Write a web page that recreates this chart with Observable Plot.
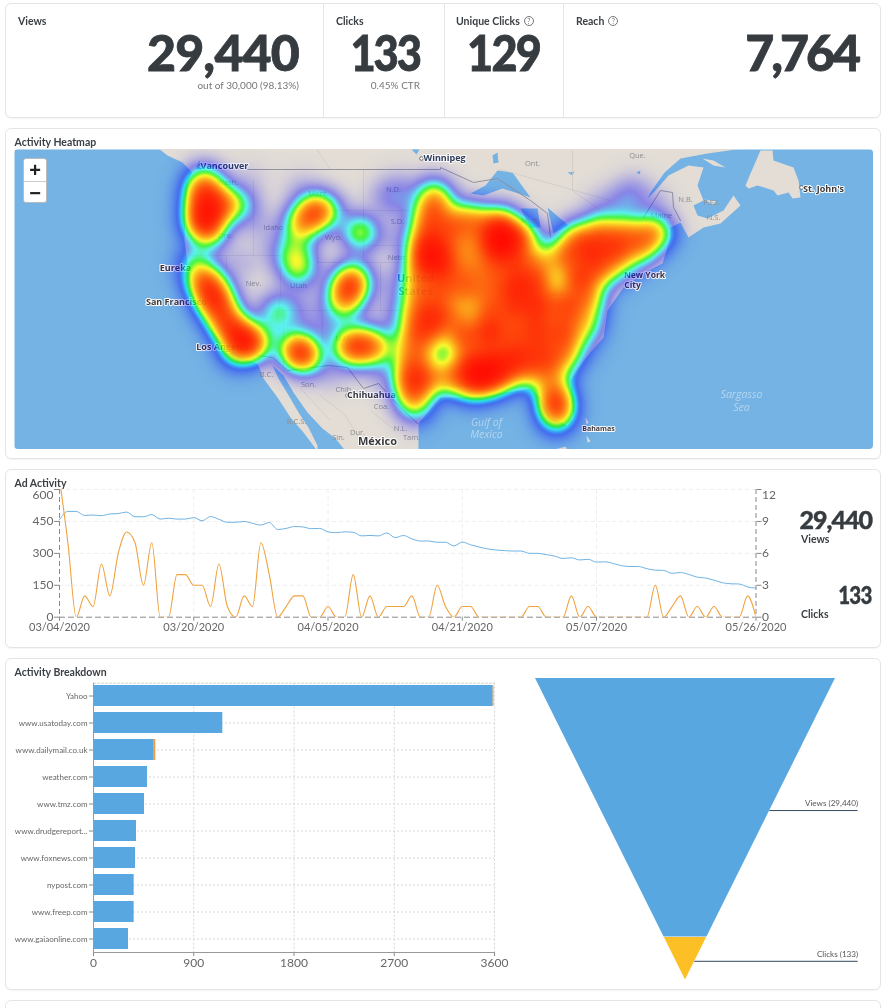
<!DOCTYPE html>
<html><head><meta charset="utf-8">
<script src="https://cdn.jsdelivr.net/npm/d3@7"></script>
<script src="https://cdn.jsdelivr.net/npm/@observablehq/plot@0.6"></script>
<style>
html,body{margin:0;padding:0;background:#fff;overflow:hidden}
#root{position:relative;width:882px;height:1008px;overflow:hidden;font-family:Lato,sans-serif;color:#32373c;filter:blur(.3px)}
.card{position:absolute;border:1px solid #e4e4e4;border-radius:6px;box-sizing:border-box;background:#fff;box-shadow:0 1px 1px rgba(0,0,0,.04)}
.abs{position:absolute;white-space:nowrap}
.lab{font-size:10.5px;font-weight:700;color:#3a3f44;line-height:12px}
.big{font-size:50px;font-weight:900;color:#363b40;line-height:38px;-webkit-text-stroke:.8px #363b40;transform-origin:right center}
.mid{font-size:25px;font-weight:900;letter-spacing:-1px;color:#363b40;line-height:20px;-webkit-text-stroke:.4px #363b40;transform-origin:right center}
.sub{font-size:10px;color:#777;line-height:12px}
.q{display:inline-block;width:8px;height:8px;border:1px solid #777;border-radius:50%;font-size:7px;line-height:8px;text-align:center;font-weight:400;color:#777;margin-left:4px;vertical-align:1px}
svg{position:absolute;background:transparent!important;max-width:none!important}
.zoombox{position:absolute;left:23px;top:158px;width:24px;height:45px;background:#fff;border:1px solid #bbb;border-radius:3px;box-sizing:border-box;font:700 20px/22px Arial,"Liberation Sans",sans-serif;text-align:center;color:#222}
.zoombox div{height:22px}.zoombox div:first-child{border-bottom:1px solid #ccc}
</style></head><body><div id="root"></div>
<script>
// ---------- data ----------
const kpiValues = ["29,440","133","129","7,764"];
const startDate = new Date(Date.UTC(2020,2,4));
const dateTicks = ["2020-03-04","2020-03-20","2020-04-05","2020-04-21","2020-05-07","2020-05-26"].map(d=>new Date(d));
const viewsDaily = [458,497,497,478,480,477,485,487,494,472,472,482,461,465,461,461,468,453,473,460,446,446,450,441,433,445,412,417,426,424,416,417,401,397,401,399,382,384,382,396,374,384,368,358,358,352,352,335,353,340,330,321,316,313,311,311,300,300,294,287,276,279,269,272,259,260,252,242,238,238,228,221,220,206,210,201,188,184,174,162,157,156,142,137];
const clicksDaily = [13,7,0,2,1,5,2,6,8,7,3,7,0,0,4,4,3,3,1,5,1,0,2,1,7,4,0,1,2,2,0,0,1,0,0,4,0,2,0,1,1,1,2,0,0,3,1,0,1,1,0,0,0,0,0,0,1,1,0,0,0,2,0,1,0,0,0,0,0,0,0,3,0,1,2,0,1,0,1,0,0,0,2,0];
const viewTicks = [0,150,300,450,600];
const sites = ["Yahoo","www.usatoday.com","www.dailymail.co.uk","weather.com","www.tmz.com","www.drudgereport...","www.foxnews.com","nypost.com","www.freep.com","www.gaiaonline.com"];
const siteViews = [3588,1161,545,485,458,386,377,365,365,314];
const siteClicks = [8,0,14,0,0,0,0,0,0,0];
const barTicks = [0,900,1800,2700,3600];
const funnelStages = ["Views","Clicks"];
const funnelStart = [0,0.859];
const funnelEnd = [0.857,1];
const funnelLabels = ["Views (29,440)","Clicks (133)"];
const funnelLabelLevel = [0.438,0.938];

// map geometry in map units
const landRings = [
 [[158,140],[158,148],[167,155],[182,162],[192,172],[188,180],[185,207],[184,240],[187,263],[192,287],[197,307],[208,327],[227,347],[247,360],[257,363],[263,378],[277,397],[290,417],[303,432],[315,448],[317,455],[317,445],[308,427],[298,412],[287,393],[278,378],[272,365],[283,375],[293,392],[307,412],[322,428],[335,438],[343,448],[345,455],[418,455],[418,448],[418,430],[418,423],[440,397],[473,397],[530,388],[540,397],[550,417],[567,425],[573,417],[570,380],[583,360],[603,337],[607,310],[623,287],[643,273],[662,263],[670,237],[670,227],[680,222],[688,237],[703,227],[720,223],[740,205],[733,195],[723,210],[707,218],[697,215],[693,205],[703,200],[697,185],[703,167],[688,165],[668,175],[655,190],[647,198],[650,192],[664,172],[680,158],[707,153],[743,148],[743,140]],
 [[745,185],[750,173],[760,150],[772,150],[773,160],[793,167],[798,180],[800,197],[792,198],[788,192],[777,195],[773,190],[757,185],[748,188]],
 [[702,158],[713,160],[725,167],[713,165]],
 [[704,199],[716,201],[712,204]],
 [[547,451],[565,446],[570,455]],
 [[585,417],[588,422],[586,424]],[[586,435],[590,441],[587,442]]
];
const lakeRings = [
 [[470,193],[485,185],[497,170],[512,172],[530,197],[518,193],[502,188],[483,195]],
 [[520,208],[537,208],[540,227],[530,227]],
 [[547,207],[568,225],[553,233],[550,220]],
 [[492,155],[497,152],[498,162],[493,163]],
 [[411,149],[419,149],[416,154]],
 [[195,168],[199,160],[203,170]],
 [[567,172],[574,171],[572,175]],
 [[636,172],[640,170],[639,174]]
];
const borderLines = [
 [[245,169],[440,169],[440,167],[473,182],[497,178],[530,200],[547,213],[550,237]],
 [[643,217],[660,190],[672,192],[673,207],[680,220]],
 [[257,355],[272,357],[287,370],[328,365],[347,367],[363,388],[378,383],[400,407],[417,423]]
];
const stateLines = [
 [[190,255],[226,255],[226,255],[280,255]],[[280,255],[280,295],[277,318]],[[226,255],[226,300],[263,340]],
 [[253,180],[253,255]],[[317,210],[363,210],[363,262],[317,262],[317,210]],[[363,169],[363,245],[410,245]],[[363,210],[410,210]],
 [[317,262],[380,262],[380,310],[322,310],[322,365]],[[280,310],[322,310]],[[283,310],[283,370]],[[380,262],[410,262]],[[380,310],[410,310]],
 [[500,169],[610,200]],[[572,150],[572,190],[600,210]],[[330,169],[317,150]],
 [[320,395],[345,415],[360,440]],[[370,410],[395,430]],[[300,388],[330,420]]
];
const mapLabels = [
 ["Vancouver",224,166,9,"b"],["Winnipeg",444,158,9,"b"],["Eureka",175,268,9,"c"],["San Francisco",176,302,9,"c"],["Los Angeles",222,347,9,"c"],
 ["New York",644,275,8.5,"c"],["City",632,285,8.5,"c"],["Chihuahua",371,395,9,"c"],["St. John's",823,189,9,"c"],["Bahamas",598,428,7,"c"],["México",377,441,11,"c"]
];
const regionLabels = [
 ["Ont.",532,163],["Que.",637,155],["N.B.",685,199],["P.E.I.",711,202],["N.S.",713,217],["Maine",661,215],["Nev.",253,283],["Idaho",273,227],["Wyo.",333,237],["Mont.",318,193],["N.D.",393,189],["S.D.",397,221],["Nebr.",397,257],["Utah",298,285],["B.C.",266,374],["Son.",308,384],["Chih.",344,389],["Coa.",381,406],["B.C.S.",296,421],["Dur.",357,432],["N.L.",400,428],["Tam.",411,437],["Sin.",338,437],["Houston",457,384],["Chicago",525,257],["Toronto",593,236],["Mich.",530,220],["W.V.",558,293],["Wash.",227,182],["Ore.",225,235],["N.M.",343,338],["Ariz.",300,337]
];
const countryLabels = [["United",415,278],["States",415,291]];
const seaLabels = [["Gulf of",486,422],["Mexico",486,434],["Sargasso",741,394],["Sea",741,407]];
const cityDots = [[200,166],[421,158],[347,395],[801,187]];
const heatPoints = [
 // Pacific Northwest
 [203,182,.35],[200,198,.42],[206,216,.62],[222,204,.42],[240,205,.2],[208,232,.35],[196,222,.2],[212,190,.15],
 // Northern California link + California
 [194,262,.2],[207,284,.55],[214,302,.58],[226,322,.6],[240,338,.62],[252,344,.42],[198,278,.15],[236,352,.2],[262,336,.08],[222,298,.12],
 // Montana - Wyoming - Utah
 [315,210,.5],[302,222,.4],[294,240,.16],[293,258,.2],[298,272,.2],[327,212,.2],[302,262,.1],
 // Dakota, small spots
 [360,232,.38],[277,311,.26],
 // Colorado
 [350,285,.65],[344,303,.3],[355,272,.14],[338,296,.1],
 // Arizona, New Mexico
 [300,352,.6],[292,347,.18],[308,358,.18],[348,345,.33],[360,343,.3],[374,347,.42],[352,352,.18],
 // thin haze between the blobs
 [260,225,.05],[275,252,.05],[240,262,.05],[300,305,.05],[320,322,.06],[335,325,.05],[392,312,.06],[390,285,.05],[393,238,.05],[385,195,.07],[400,190,.08],[250,180,.03],[300,188,.04],[330,372,.05],[380,372,.05],[290,320,.05],[395,345,.06],
 [632,193,.1],[620,203,.08],[652,205,.06],[600,208,.06],[395,205,.05],
 // Eastern mass
 [433,195,.33],[428,215,.36],[438,205,.18],
 [426,232,.36],[450,226,.4],[466,218,.3],[480,224,.3],[500,224,.5],
 [424,248,.42],[448,246,.32],[472,246,.3],[498,243,.8],[522,238,.42],[510,235,.2],
 [576,238,.4],[600,232,.42],[625,232,.38],[650,233,.36],[660,232,.16],
 [420,268,.42],[432,255,.4],[444,268,.48],[468,268,.3],[492,266,.4],[516,262,.48],[540,262,.3],[564,256,.44],[590,252,.5],[615,250,.48],[640,248,.34],
 [418,290,.4],[442,290,.42],[466,288,.42],[490,288,.35],[514,286,.58],[536,282,.5],[578,278,.58],[600,270,.4],[622,266,.14],[557,294,.12],
 [416,312,.38],[436,312,.42],[456,316,.28],[490,310,.42],[514,308,.5],[538,306,.58],[566,306,.5],[588,298,.38],[472,308,.1],
 [414,334,.42],[432,328,.4],[462,336,.5],[488,332,.62],[512,332,.4],[536,330,.55],[562,330,.5],[586,322,.28],
 [412,356,.38],[428,350,.16],[468,358,.38],[492,356,.42],[516,354,.5],[540,352,.42],[564,350,.34],[582,340,.1],
 [410,376,.5],[428,378,.38],[452,376,.42],[478,374,.7],[502,372,.52],[526,370,.34],[548,368,.34],[566,362,.12],
 [412,394,.4],[416,408,.18],[470,386,.26],[490,382,.26],
 [552,388,.32],[556,404,.58],[556,418,.26]
];
// ---------- helpers ----------
const root = document.getElementById("root");
function el(cls, css, html){const d=document.createElement("div");d.className=cls;d.style.cssText=css;d.innerHTML=html||"";root.appendChild(d);return d;}
function put(svg,l,t){svg.style.left=l+"px";svg.style.top=t+"px";root.appendChild(svg);}
const card=(x,y,x2,y2)=>el("card",`left:${x}px;top:${y}px;width:${x2-x}px;height:${y2-y}px`);
// ---------- cards and text ----------
card(5,3,881,118);card(5,128,881,459);card(5,469,881,648);card(5,658,881,990);card(5,1000,881,1040);
for(const x of [323,444,563]) el("abs",`left:${x}px;top:3px;width:1px;height:115px;background:#e6e6e6`);
el("abs lab","left:18px;top:15px","Views");
el("abs lab","left:336px;top:15px","Clicks");
el("abs lab","left:456px;top:15px",'Unique Clicks<span class="q">?</span>');
el("abs lab","left:576px;top:15px",'Reach<span class="q">?</span>');
const bigRight=[299,420,540,858];
const bigSpacing=[-0.8,-2.4,-2,-3];
const bigSquash=[1,.87,.9,1];
kpiValues.forEach((v,i)=>el("abs big",`right:${882-bigRight[i]}px;top:33px;letter-spacing:${bigSpacing[i]}px;transform:scaleX(${bigSquash[i]})`,v));
el("abs sub","right:583px;top:79px","out of 30,000 (98.13%)");
el("abs sub","right:462px;top:79px","0.45% CTR");
el("abs lab","left:14.5px;top:136px","Activity Heatmap");
el("abs lab","left:14.5px;top:477px","Ad Activity");
el("abs lab","left:14.5px;top:666px","Activity Breakdown");
el("abs mid","right:10px;top:509px",kpiValues[0]);
el("abs lab","left:801px;top:533px","Views");
el("abs mid","right:10px;top:584px;transform:scaleX(.82)",kpiValues[1]);
el("abs lab","left:801px;top:608px","Clicks");

// ---------- map ----------
const sigma=13, s2=2*sigma*sigma, gain=3.4;
function heat(x,y){let a=0;for(const p of heatPoints){const dx=x-p[0],dy=y-p[1],d=dx*dx+dy*dy;if(d<3600)a+=p[2]*Math.exp(-d/s2);}return 1-Math.exp(-gain*a);}
const ringRows=(rings)=>rings.flatMap((r,i)=>r.map(p=>({x:p[0],y:p[1],z:i})));
const mapPlot=Plot.plot({
  width:859,height:300,margin:0,
  style:{fontFamily:"'Open Sans',sans-serif"},
  x:{domain:[14,873],axis:null},y:{domain:[449,149],axis:null},
  color:{type:"linear",domain:[0,.4,.6,.7,.8,1],range:["#0000ff","#0000ff","#00ffff","#00ff00","#ffff00","#ff0000"],interpolate:"rgb"},
  opacity:{type:"identity"},
  marks:[
    Plot.frame({fill:"#74b3e4",stroke:null}),
    Plot.line(ringRows(landRings),{x:"x",y:"y",z:"z",fill:"#e3ddd6",stroke:null,clip:true}),
    Plot.line(ringRows(lakeRings),{x:"x",y:"y",z:"z",fill:"#74b3e4",stroke:null,clip:true}),
    Plot.line(ringRows(stateLines),{x:"x",y:"y",z:"z",stroke:"#cfc8c1",strokeWidth:.7,clip:true}),
    Plot.line(ringRows(borderLines),{x:"x",y:"y",z:"z",stroke:"#8d8f96",strokeWidth:.9,clip:true}),
    Plot.dot(cityDots,{x:d=>d[0],y:d=>d[1],r:1.8,fill:"#fff",stroke:"#555",strokeWidth:.8}),
    Plot.text(regionLabels,{x:d=>d[1],y:d=>d[2],text:d=>d[0],fontSize:7.5,fill:"#8f8f8f"}),
    Plot.text(seaLabels,{x:d=>d[1],y:d=>d[2],text:d=>d[0],fontSize:10.5,fontStyle:"italic",fill:"#b5d6ef",letterSpacing:"1px"}),
    Plot.text(mapLabels,{x:d=>d[1],y:d=>d[2],text:d=>d[0],fontSize:d=>d[3],fontWeight:700,fill:d=>d[4]=="b"?"#33405a":"#3a3a3a",stroke:"#fff",strokeWidth:2}),
    Plot.text(countryLabels,{x:d=>d[1],y:d=>d[2],text:d=>d[0],fontSize:11,fontWeight:700,fill:"#3d5f9e",stroke:"#fff",strokeWidth:1.5,letterSpacing:"1px"}),
    Plot.raster({x1:14,x2:873,y1:449,y2:149,pixelSize:1,fill:(x,y)=>heat(x,y),fillOpacity:(x,y)=>heat(x,y)})
  ]
});
mapPlot.style.borderRadius="4px";
put(mapPlot,14,149);
el("zoombox","", "<div>+</div><div>−</div>");

// ---------- line chart ----------
const daily=viewsDaily.map((v,i)=>({date:d3.utcDay.offset(startDate,i),views:v,clicks:clicksDaily[i]}));
const clickScale=50;
const dateFmt=d3.utcFormat("%m/%d/%Y");
const axisOpts={tickPadding:1,label:null,stroke:"#888",fontSize:12};
const linePlot=Plot.plot({
  width:800,height:175,marginLeft:59,marginRight:44.5,marginTop:19,marginBottom:28.3,
  style:{fontFamily:"Lato,sans-serif",fontSize:"11px",color:"#666"},
  x:{type:"utc",domain:[dateTicks[0],dateTicks[5]]},
  y:{domain:[0,600]},
  marks:[
    Plot.ruleY(viewTicks.slice(1),{stroke:"#eeeeee",strokeDasharray:"4,3"}),
    Plot.ruleX(dateTicks.slice(1,5),{stroke:"#eeeeee",strokeDasharray:"4,3"}),
    Plot.ruleX([dateTicks[0],dateTicks[5]],{stroke:"#8a8a8a",strokeDasharray:"5,3",strokeWidth:1}),
    Plot.ruleY([0],{stroke:"#8a8a8a",strokeDasharray:"6,3",strokeWidth:1}),
    Plot.axisX({ticks:dateTicks,tickFormat:dateFmt,tickSize:4,tickPadding:2,label:null,stroke:"#888"}),
    Plot.axisY({...axisOpts,ticks:viewTicks.slice(0,4),tickSize:5}),
    Plot.axisY({...axisOpts,ticks:viewTicks.slice(4),tickSize:5,tickFormat:()=>""}),
    Plot.axisY({...axisOpts,ticks:viewTicks.slice(4),tickSize:0,tickPadding:6,dy:6}),
    Plot.axisY({...axisOpts,anchor:"right",ticks:viewTicks.slice(0,4),tickFormat:d=>d/clickScale,tickSize:5}),
    Plot.axisY({...axisOpts,anchor:"right",ticks:viewTicks.slice(4),tickSize:5,tickFormat:()=>""}),
    Plot.axisY({...axisOpts,anchor:"right",ticks:viewTicks.slice(4),tickFormat:d=>d/clickScale,tickSize:0,tickPadding:6,dy:6}),
    Plot.line(daily,{x:"date",y:"views",stroke:"#6fb3e3",strokeWidth:1,curve:"monotone-x"}),
    Plot.line(daily,{x:"date",y:d=>d.clicks*clickScale,stroke:"#f0a23f",strokeWidth:1.1,curve:"monotone-x",clip:true})
  ]
});
put(linePlot,0,470);

// ---------- bars ----------
const barRows=sites.flatMap((s,i)=>[{site:s,series:"Views",value:siteViews[i]},{site:s,series:"Clicks",value:siteClicks[i]}]);
const barPlot=Plot.plot({
  width:510,height:330,marginLeft:93,marginRight:16,marginTop:27.7,marginBottom:33,
  style:{fontFamily:"Lato,sans-serif",color:"#666"},
  x:{domain:[0,3600]},
  y:{domain:sites,paddingInner:.222,paddingOuter:.085},
  color:{domain:["Views","Clicks"],range:["#58a7e1","#f29a3c"]},
  marks:[
    Plot.ruleX(barTicks.slice(1),{stroke:"#d6d6d6",strokeDasharray:"2,2"}),
    Plot.ruleY(sites,{y:d=>d,stroke:"#d6d6d6",strokeDasharray:"2,2"}),
    Plot.frame({anchor:"top",stroke:"#d6d6d6",strokeDasharray:"2,2"}),
    Plot.barX(barRows,Plot.stackX({x:"value",y:"site",fill:"series",order:null})),
    Plot.axisX({ticks:barTicks,tickFormat:d=>String(d),tickSize:4,tickPadding:2,fontSize:12,label:null,stroke:"#888"}),
    Plot.axisY({tickSize:4,tickPadding:2,fontSize:8,letterSpacing:"-0.25px",label:null,stroke:"#888",textOverflow:null,lineWidth:Infinity}),
    Plot.frame({anchor:"left",stroke:"#999"}),
    Plot.frame({anchor:"bottom",stroke:"#999"})
  ]
});
put(barPlot,0,655);

// ---------- funnel ----------
const funnelRows=funnelStages.flatMap((s,i)=>[funnelStart[i],funnelEnd[i]].map(l=>({stage:s,level:l})));
const funnelRules=funnelLabels.map((t,i)=>({t,level:funnelLabelLevel[i]}));
const labelEnd=1.151;
const funnelPlot=Plot.plot({
  width:350,height:330,
  style:{fontFamily:"Lato,sans-serif"},
  x:{domain:[-1,1],range:[15,315],axis:null},
  y:{domain:[0,1],range:[18,319.5],axis:null},
  color:{domain:funnelStages,range:["#58a7e1","#fdbf26"]},
  marks:[
    Plot.area(funnelRows,{x1:d=>d.level-1,x2:d=>1-d.level,y1:"level",fill:"stage",z:"stage"}),
    Plot.ruleY(funnelRules,{y:"level",x1:d=>1-d.level,x2:labelEnd,stroke:"#34495e",strokeWidth:1}),
    Plot.text(funnelRules,{x:labelEnd,y:"level",text:"t",dy:-7,textAnchor:"end",fontSize:8.1,fill:"#555"})
  ]
});
put(funnelPlot,520,660);
</script></body></html>
